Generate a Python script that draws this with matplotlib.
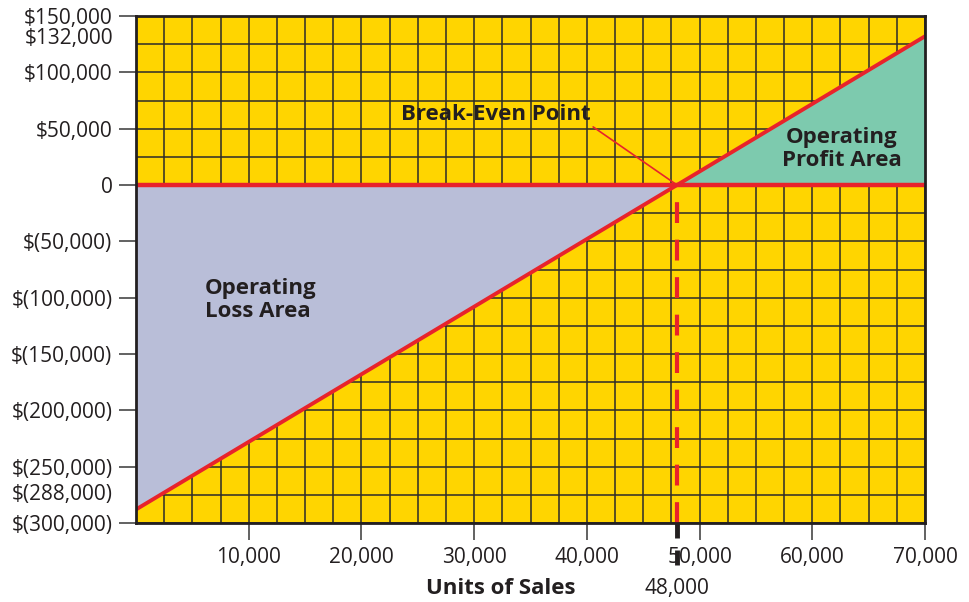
import numpy as np
import matplotlib.pyplot as plt
from matplotlib.ticker import MultipleLocator, FuncFormatter
import matplotlib.transforms as mtransforms

# break-even data (units vs operating income)
units = [0, 70000]
income = [-288000, 132000]
break_even_units = 48000
x_ticks = [10000, 20000, 30000, 40000, 50000, 60000, 70000]
y_ticks = [150000, 100000, 50000, 0, -50000, -100000, -150000, -200000, -250000, -300000]
extra_y_labels = [132000, -288000]

YELLOW = '#FFD500'
LAVENDER = '#B9BED8'
TEAL = '#7DCAAE'
RED = '#E8232B'
INK = '#231F20'

plt.rcParams['font.family'] = ['Open Sans', 'DejaVu Sans']

def money(v, pos=None):
    if v == 0:
        return '0'
    if v < 0:
        return '$({:,.0f})'.format(-v)
    return '${:,.0f}'.format(v)

fig = plt.figure(figsize=(9.69, 6.02), dpi=100)
ax = fig.add_axes([136 / 969, 1 - 523 / 602, (925 - 136) / 969, (523 - 16) / 602])
ax.set_facecolor(YELLOW)
ax.set_xlim(0, 70000)
ax.set_ylim(-300000, 150000)

# grid on the yellow background
ax.xaxis.set_minor_locator(MultipleLocator(2500))
ax.yaxis.set_minor_locator(MultipleLocator(25000))
ax.set_axisbelow(True)
ax.grid(which='both', color='#2b2b2b', linewidth=1.1)

# profit / loss areas
xs = np.array(units, dtype=float)
ys = np.array(income, dtype=float)
slope = (ys[1] - ys[0]) / (xs[1] - xs[0])
xx = np.array([xs[0], break_even_units, xs[1]])
yy = ys[0] + slope * (xx - xs[0])
ax.fill_between(xx[:2], yy[:2], 0, color=LAVENDER, zorder=2, linewidth=0)
ax.fill_between(xx[1:], 0, yy[1:], color=TEAL, zorder=2, linewidth=0)

ax.plot([xs[0], xs[1]], [0, 0], color=RED, linewidth=3.2, zorder=4, solid_capstyle='butt')
ax.plot(xs, ys, color=RED, linewidth=2.8, zorder=4, solid_capstyle='butt')
# dashed drop line, drawn from the bottom so the dashes meet the axis
ax.plot([break_even_units, break_even_units], [-300000, 0], color=RED, linewidth=3,
        dashes=(5, 4), zorder=4)

# ticks
ax.set_xticks(x_ticks)
ax.xaxis.set_major_formatter(FuncFormatter(lambda v, p: '{:,.0f}'.format(v)))
ax.set_yticks(y_ticks)
ax.yaxis.set_major_formatter(FuncFormatter(money))
ax.tick_params(which='minor', length=0)
ax.tick_params(which='major', length=12, width=1.3, color='#555555', labelsize=15,
               labelcolor=INK, pad=5)
ax.tick_params(axis='y', pad=5)
for s in ax.spines.values():
    s.set_color(INK)
    s.set_linewidth(2)
    s.set_zorder(5)

# extra y labels without tick marks
ax.text(0, extra_y_labels[0], money(extra_y_labels[0]), transform=mtransforms.offset_copy(
    ax.get_yaxis_transform(), fig=fig, x=-23, y=-2, units='dots'),
    ha='right', va='center', fontsize=15, color=INK)
ax.text(0, extra_y_labels[1], money(extra_y_labels[1]), transform=mtransforms.offset_copy(
    ax.get_yaxis_transform(), fig=fig, x=-23, y=15, units='dots'),
    ha='right', va='center', fontsize=15, color=INK)

# thick marker for the break-even units
xtr = ax.get_xaxis_transform()
ax.plot([break_even_units, break_even_units], [0, -0.03], transform=xtr, color=INK,
        linewidth=3.5, clip_on=False, solid_capstyle='butt', zorder=6)
ax.plot([break_even_units, break_even_units], [-0.053, -0.083], transform=xtr, color=INK,
        linewidth=3.5, clip_on=False, solid_capstyle='butt', zorder=6)
ax.text(break_even_units, -0.13, '{:,.0f}'.format(break_even_units), transform=xtr,
        ha='center', va='center', fontsize=15, color=INK)
ax.text(32400, -0.13, 'Units of Sales', transform=xtr, ha='center', va='center',
        fontsize=16, fontweight='bold', color=INK)

# annotations
ax.annotate('Break-Even Point', xy=(break_even_units, 0), xytext=(31900, 62600),
            ha='center', va='center', fontsize=16, fontweight='bold', color=INK,
            arrowprops=dict(arrowstyle='-', color=RED, linewidth=1.2,
                            shrinkA=0, shrinkB=0, relpos=(1.0, 0.0)),
            zorder=6)
ax.text(62600, 32000, 'Operating\nProfit Area', ha='center', va='center', fontsize=16,
        fontweight='bold', color=INK, linespacing=1.1, zorder=6)
ax.text(6100, -102000, 'Operating\nLoss Area', ha='left', va='center', fontsize=16,
        fontweight='bold', color=INK, linespacing=1.1, zorder=6)

fig.savefig('out.png', dpi=100)
